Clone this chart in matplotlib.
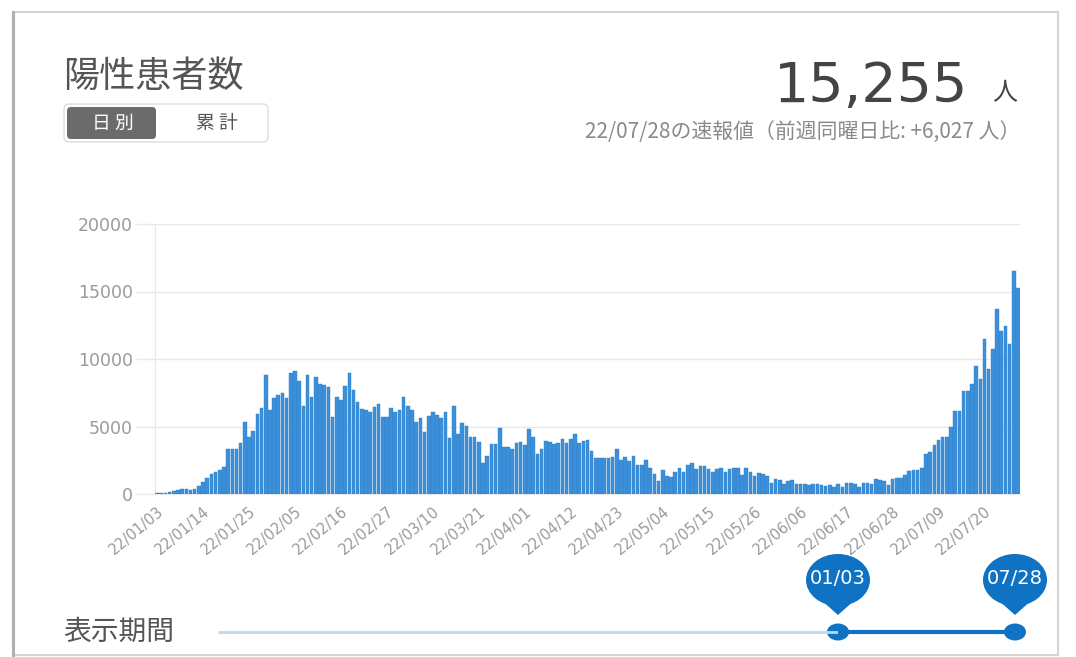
import numpy as np
import pandas as pd
import matplotlib
matplotlib.use("Agg")
import matplotlib.pyplot as plt
from matplotlib.patches import Ellipse, Polygon, Rectangle, FancyBboxPatch

plt.rcParams['font.family'] = ['Noto Sans CJK JP', 'DejaVu Sans']

# daily positive cases, 2022-01-03 .. 2022-07-28
START = "2022-01-03"
END = "2022-07-28"
cases = [
    50, 60, 100, 150, 250, 300, 350, 400, 300, 350, 600, 900, 1200, 1450, 1600,
    1750, 2000, 3300, 3300, 3300, 3800, 5300, 4200, 4700, 5900, 6400, 8800, 6200,
    7100, 7300,
    7500, 7100, 9000, 9100, 8400, 6500, 8800, 7200, 8700, 8150, 8050, 7900, 5700,
    7200, 7000, 8000, 9000, 7700, 6800, 6300, 6250, 6050, 6450, 6700, 5700, 5700,
    6400, 6100, 6200, 7150, 6500, 6200, 5350, 5600, 4600, 5750,
    6050, 5850, 5600, 6100, 4150, 6550, 4450, 5250, 5050, 4250, 4250, 3850, 2300,
    2800, 3700, 3700, 4900, 3500, 3450, 3300, 3750, 3850, 3650, 4800, 4200, 3000,
    3300, 3950, 3850, 3700, 3750, 4050, 3750, 4050, 4450,
    3750, 3900, 4000, 3200, 2650, 2700, 2700, 2700, 2750, 3300, 2500, 2750, 2450,
    2800, 2150, 2150, 2550, 1900, 1500, 1000, 1750, 1300, 1250, 1600, 1950, 1650,
    2150, 2300, 1850, 2050, 2050, 1850, 1650, 1850, 1900, 1650,
    1850, 1900, 1900, 1400, 1950, 1650, 1300, 1550, 1450, 1300, 800, 1100, 1050,
    750, 1000, 1050, 750, 750, 750, 650, 750, 750, 650, 600, 650, 550, 750, 550,
    850, 850, 750, 500, 800, 850, 750,
    1100, 1050, 1000, 650, 1100, 1200, 1200, 1400, 1700, 1800, 1800, 1900, 3000,
    3100, 3650, 4000, 4250, 4200, 4950, 6150, 6150, 7600, 7600, 8150, 9450, 8550,
    11450, 9228, 10750, 13700, 12050, 12450, 11100, 16550, 15255,
]
y_ticks = [0, 5000, 10000, 15000, 20000]
TICK_EVERY = 11

TITLE = "陽性患者数"
LATEST = "15,255"
SUBTITLE = "22/07/28の速報値（前週同曜日比: +6,027 人）"
RANGE_FROM = "01/03"
RANGE_TO = "07/28"

BAR = "#3b90d9"
GRID = "#e8e8e8"
TEXT = "#555555"
LIGHT_TEXT = "#8a8a8a"
PIN = "#0f72c2"

W, H = 1076, 657
fig = plt.figure(figsize=(W / 100, H / 100), dpi=100)
fig.patch.set_facecolor("white")

# overlay in pixel coordinates for the card decoration
ov = fig.add_axes([0, 0, 1, 1])
ov.set_xlim(0, W)
ov.set_ylim(H, 0)
ov.axis("off")

ov.add_patch(Rectangle((13, 12), 1045, 643, fill=False, ec="#d5d5d5", lw=1.5))
ov.plot([13, 13], [12, 657], color="#b0b0b0", lw=2.2)

ov.text(63, 77, TITLE, fontsize=26, color=TEXT, va="center", ha="left")

# toggle buttons
ov.add_patch(FancyBboxPatch((64, 104), 204, 38, boxstyle="round,pad=0,rounding_size=5",
                            fc="white", ec="#dddddd", lw=1))
ov.add_patch(FancyBboxPatch((67, 107), 89, 32, boxstyle="round,pad=0,rounding_size=4",
                            fc="#6b6b6b", ec="none"))
ov.text(113, 123, "日 別", fontsize=13.5, color="white", ha="center", va="center")
ov.text(217, 123, "累 計", fontsize=13.5, color=TEXT, ha="center", va="center")

ov.text(968, 87, LATEST, fontsize=40, color="#444444", ha="right", va="center",
        family=["DejaVu Sans"])
ov.text(1005, 93, "人", fontsize=18, color="#444444", ha="center", va="center")
ov.text(1020, 132, SUBTITLE, fontsize=15, color=LIGHT_TEXT, ha="right", va="center")

# period slider
ov.text(63, 632, "表示期間", fontsize=20, color=TEXT, ha="left", va="center")
ov.plot([218, 838], [632, 632], color="#b9dcf3", lw=2, solid_capstyle="butt")
ov.plot([838, 1015], [632, 632], color=PIN, lw=3, solid_capstyle="butt")
for cx, lab in [(838, RANGE_FROM), (1015, RANGE_TO)]:
    ov.add_patch(Ellipse((cx, 632), 22, 17, fc=PIN, ec="none"))
    ov.add_patch(Polygon([(cx - 27, 591), (cx + 27, 591), (cx, 615)], closed=True,
                         fc=PIN, ec="none"))
    ov.add_patch(Ellipse((cx, 580), 64, 52, fc=PIN, ec="none"))
    ov.text(cx, 579, lab, fontsize=14, color="white", ha="center", va="center",
            family=["DejaVu Sans"])

# bar chart
dates = pd.date_range(START, END, freq="D")
x = np.arange(len(dates))

ax = fig.add_axes([155 / W, 1 - 494 / H, (1020 - 155) / W, (494 - 224) / H])
ax.bar(x, cases, width=0.86, color=BAR, edgecolor="#2f80c8", linewidth=0.3, zorder=3)
ax.set_xlim(-0.5, len(dates) - 0.5)
ax.set_ylim(0, 20000)
ax.set_yticks(y_ticks)
ax.set_yticklabels([str(v) for v in y_ticks], family=["DejaVu Sans"])
ax.grid(axis="y", color=GRID, lw=1, zorder=0)
ax.tick_params(axis="y", length=14, width=1, color=GRID, pad=2, labelsize=12.5,
               labelcolor="#9a9a9a")

tick_idx = x[::TICK_EVERY]
ax.set_xticks(tick_idx)
ax.set_xticklabels([dates[i].strftime("%y/%m/%d") for i in tick_idx],
                   rotation=40, ha="right", rotation_mode="anchor",
                   family=["DejaVu Sans"])
ax.tick_params(axis="x", length=0, pad=7, labelsize=10.5, labelcolor="#9a9a9a")

for side in ["top", "right"]:
    ax.spines[side].set_visible(False)
ax.spines["left"].set_color(GRID)
ax.spines["bottom"].set_color(GRID)
ax.set_facecolor("none")

fig.savefig("out.png", dpi=100)
